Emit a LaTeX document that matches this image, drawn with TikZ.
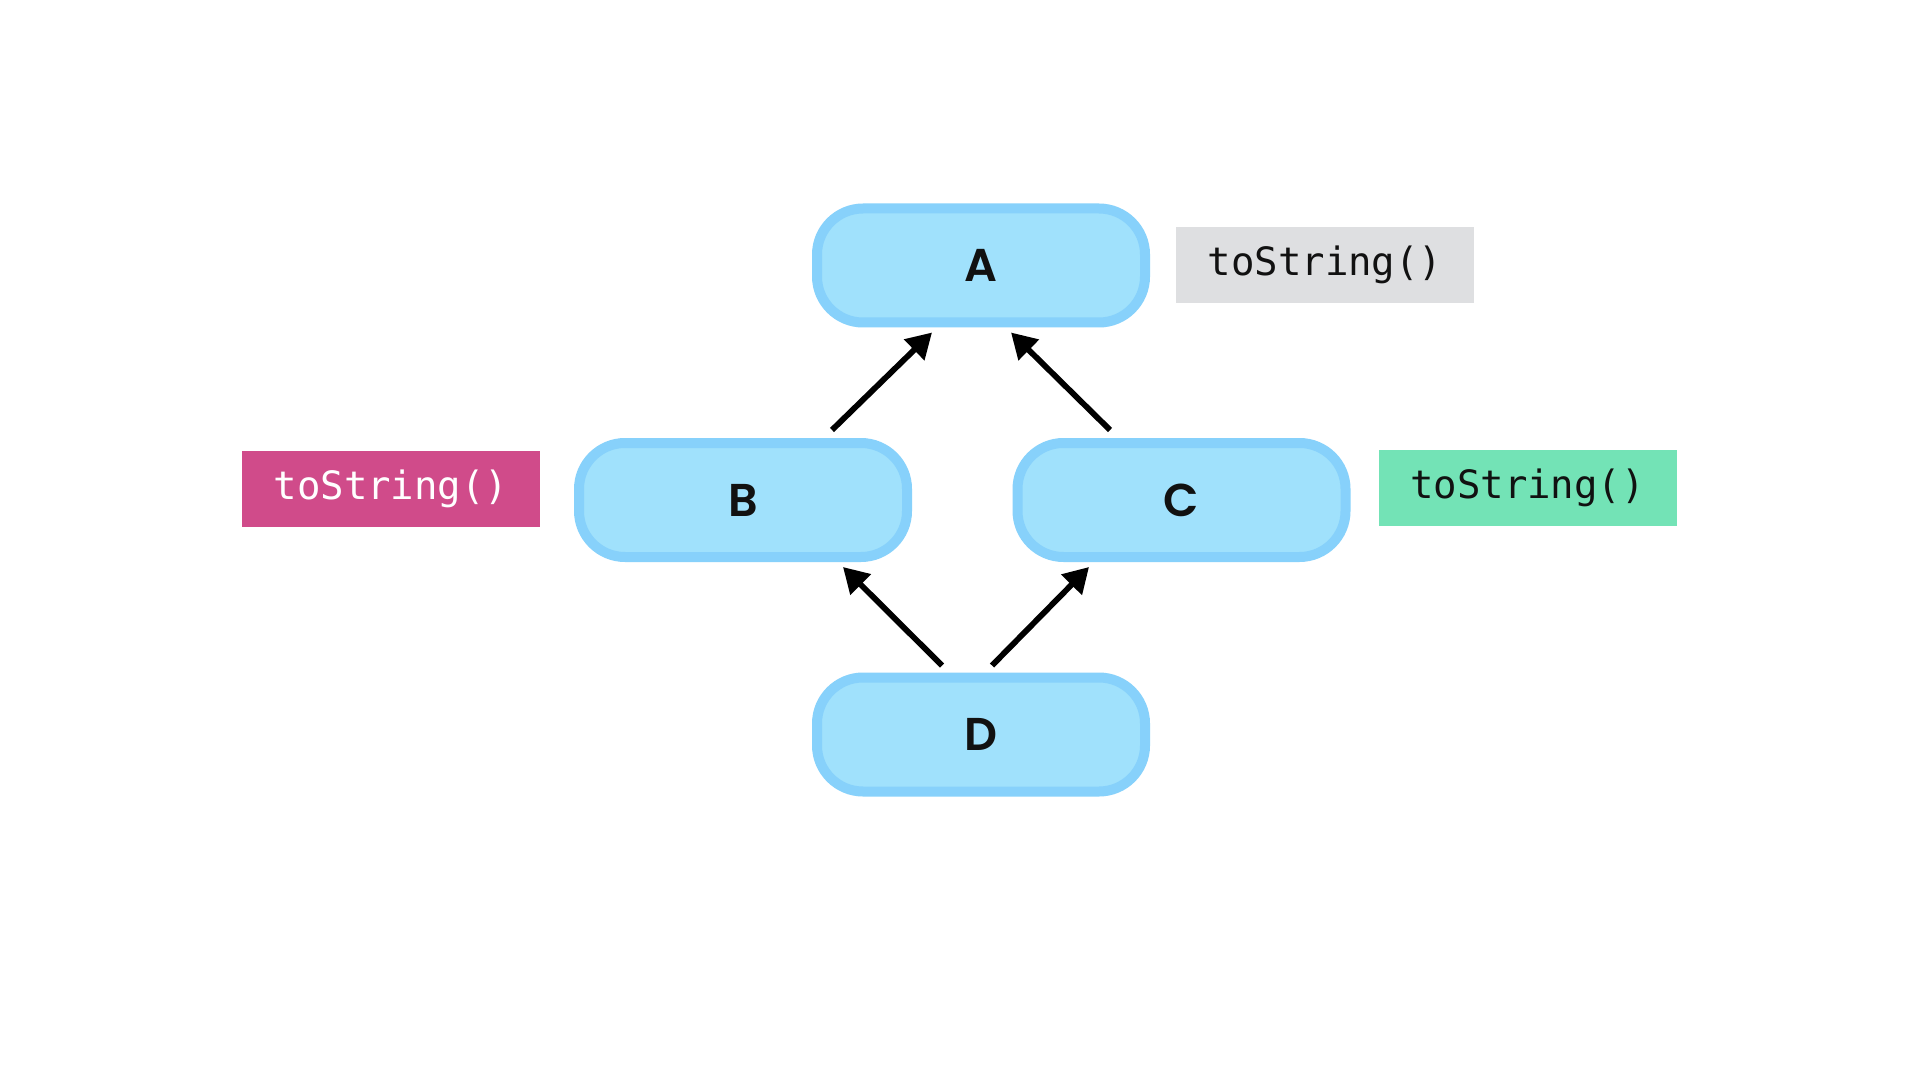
\documentclass[tikz,border=0pt]{standalone}
\usepackage{fontspec}
\newfontfamily\monofont{DejaVu Sans Mono}
\newfontfamily\lblfont{Poppins}[BoldFont={Poppins SemiBold}]
\usetikzlibrary{arrows.meta,calc}
\definecolor{boxfill}{HTML}{A0E1FC}
\definecolor{boxline}{HTML}{87D1FB}
\definecolor{tgray}{HTML}{DEDFE1}
\definecolor{tpink}{HTML}{D04B8A}
\definecolor{tgreen}{HTML}{73E3B6}
\definecolor{ink}{HTML}{111111}
\tikzset{
  cls/.style={draw=boxline, fill=boxfill, line width=5pt, rounded corners=23pt,
    minimum width=164pt, minimum height=57pt, inner sep=0pt,
    font=\lblfont\bfseries\fontsize{23}{23}\selectfont, text=ink},
  tag/.style={minimum width=149pt, minimum height=38pt, inner sep=0pt,
    font=\monofont\fontsize{19.5}{19.5}\selectfont},
  arr/.style={line width=2.9pt, -{Triangle[length=12.5pt,width=14pt]}}
}
\begin{document}
\begin{tikzpicture}[x=0.5pt,y=-0.5pt]
\useasboundingbox[fill=white] (0,0) rectangle (1920,1080);
\node[cls] (A) at (981,265.5) {A};
\node[cls] (B) at (743,500) {B};
\node[cls] (C) at (1181.5,500) {C};
\node[cls] (D) at (981,734.5) {D};
\node[tag, fill=tgray, text=ink] (tA) at (1325,265) {toString()};
\node[tag, fill=tpink, text=white] (tB) at (391,489) {toString()};
\node[tag, fill=tgreen, text=ink] (tC) at (1527.5,488) {toString()};
\draw[arr] ($(B.north)+(89,-8)$) -- ($(A.south)+(-49,5)$);
\draw[arr] ($(C.north)+(-71.5,-8)$) -- ($(A.south)+(30,5)$);
\draw[arr] ($(D.north)+(-39,-7)$) -- ($(B.south)+(100,5)$);
\draw[arr] ($(D.north)+(11,-7)$) -- ($(C.south)+(-92.5,5)$);
\end{tikzpicture}
\end{document}
